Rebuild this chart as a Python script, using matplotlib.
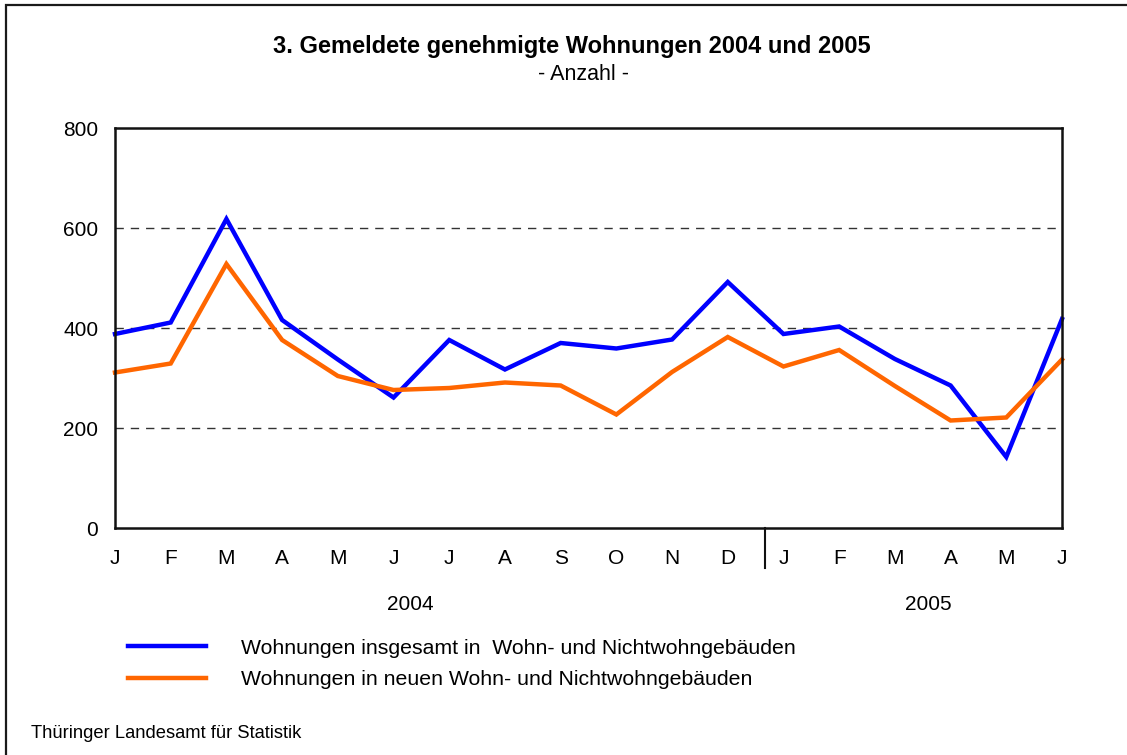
import numpy as np
import matplotlib
matplotlib.use('Agg')
import matplotlib.pyplot as plt
from matplotlib.patches import Rectangle
import matplotlib.transforms as mtransforms

plt.rcParams['font.family'] = ['Liberation Sans', 'DejaVu Sans']

months = ['J', 'F', 'M', 'A', 'M', 'J', 'J', 'A', 'S', 'O', 'N', 'D',
          'J', 'F', 'M', 'A', 'M', 'J']
years = ['2004', '2005']
insgesamt = [388, 411, 618, 416, 337, 261, 376, 317, 370, 359, 377, 492,
             388, 403, 338, 285, 142, 418]
neue = [311, 329, 528, 376, 304, 276, 280, 291, 285, 227, 312, 382,
        323, 356, 284, 215, 221, 337]
lbl_ins = 'Wohnungen insgesamt in  Wohn- und Nichtwohngebäuden'
lbl_neu = 'Wohnungen in neuen Wohn- und Nichtwohngebäuden'

W, H = 1127, 755
fig = plt.figure(figsize=(W / 100, H / 100), dpi=100)

# outer frame
fig.add_artist(Rectangle((5.5 / W, -0.05), 1.1, 1 - 4.5 / H + 0.05,
                         transform=fig.transFigure, fill=False,
                         edgecolor='#1a1a1a', linewidth=1.6))

ax = fig.add_axes([115 / W, 1 - 528 / H, (1062 - 115) / W, 400 / H])
x = np.arange(len(months))
ax.plot(x, insgesamt, color='#0000ff', lw=3.2, label=lbl_ins, clip_on=False,
        solid_joinstyle='miter')
ax.plot(x, neue, color='#ff6600', lw=3.2, label=lbl_neu, clip_on=False,
        solid_joinstyle='miter')

ax.set_xlim(0, len(months) - 1)
ax.set_ylim(0, 800)
ax.set_yticks([0, 200, 400, 600, 800])
for yv in [200, 400, 600]:
    ax.axhline(yv, color='#333333', lw=1.0, ls=(0, (6, 5)), zorder=0)
ax.set_xticks(x)
ax.set_xticklabels(months)
ax.tick_params(axis='both', length=0, labelsize=15)
ax.tick_params(axis='x', pad=15)
ax.tick_params(axis='y', pad=12)
for s in ax.spines.values():
    s.set_linewidth(1.8)
    s.set_color('#111111')

# year divider
trans = mtransforms.blended_transform_factory(ax.transData, ax.transAxes)
ax.plot([11.67, 11.67], [0, -0.1], color='#111111', lw=1.5,
        transform=trans, clip_on=False)
ax.text(5.3, -0.19, years[0], transform=trans, ha='center', va='center',
        fontsize=15)
ax.text(14.6, -0.19, years[1], transform=trans, ha='center', va='center',
        fontsize=15)

fig.text(572 / W, 1 - 46 / H, '3. Gemeldete genehmigte Wohnungen 2004 und 2005',
         ha='center', va='center', fontsize=17, fontweight='bold')
fig.text(584 / W, 1 - 75 / H, '- Anzahl -', ha='center', va='center',
         fontsize=15.5)

fig.legend(loc='upper left', bbox_to_anchor=(119 / W, 1 - 630 / H),
           frameon=False, fontsize=15.3, handlelength=3.7,
           handletextpad=1.65, labelspacing=0.6, borderaxespad=0)

fig.text(31 / W, 1 - 734 / H, 'Thüringer Landesamt für Statistik',
         ha='left', va='center', fontsize=13.2)

fig.savefig('out.png', dpi=100)
